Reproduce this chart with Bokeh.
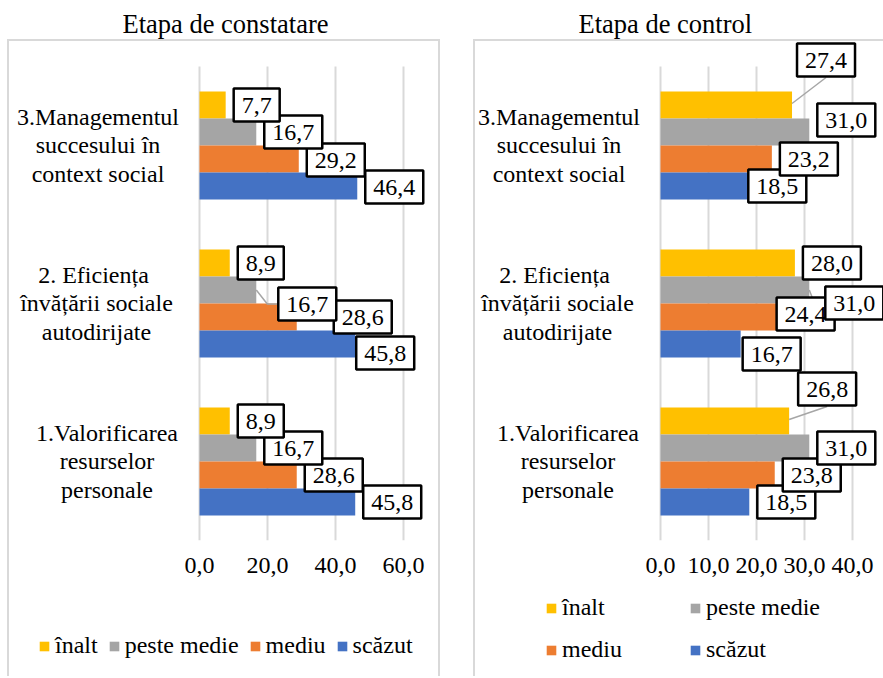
from bokeh.plotting import figure
from bokeh.models import FixedTicker, Range1d, Legend, LegendItem, Label
from bokeh.core.properties import value
from bokeh.layouts import row, column
from bokeh.embed import file_html
from bokeh.resources import INLINE

# ---------------- data ----------------
categories = [
    "1.Valorificarea\nresurselor\npersonale",
    "2.  Eficiența\nînvățării sociale\nautodirijate",
    "3.Managementul\nsuccesului în\ncontext social",
]
series_names = ["înalt", "peste medie", "mediu", "scăzut"]
series_colors = ["#FFC000", "#A5A5A5", "#ED7D31", "#4472C4"]

const_inalt = [8.9, 8.9, 7.7]
const_peste = [16.7, 16.7, 16.7]
const_mediu = [28.6, 28.6, 29.2]
const_scazut = [45.8, 45.8, 46.4]

ctrl_inalt = [26.8, 28.0, 27.4]
ctrl_peste = [31.0, 31.0, 31.0]
ctrl_mediu = [23.8, 24.4, 23.2]
ctrl_scazut = [18.5, 16.7, 18.5]

const_ticks = [0, 20, 40, 60]
const_tick_labels = ["0,0", "20,0", "40,0", "60,0"]
ctrl_ticks = [0, 10, 20, 30, 40]
ctrl_tick_labels = ["0,0", "10,0", "20,0", "30,0", "40,0"]

title_const = "Etapa de constatare"
title_ctrl = "Etapa de control"

# ---------------- styles / placement (pixels) ----------------
FONT = "Liberation Serif"
TXT = "#000000"
GRID = "#D9D9D9"
MAIN_H = 590
LEG_H = 86
TOP = 40          # frame top (px from figure top)
BOTTOM = 50       # space under frame for the x axis
BAR_PX = 27
CAT_PX = 158
PAD_V, PAD_H = 8, 9
GAP = 8
BOX_HALF_W, BOX_HALF_H = 29, 17.5
CAT_LABEL_DX = [-92.5, -103, -101.5]   # centre of category label blocks, px from x=0

# manual label nudges (dx right, dy down) per series, per category
const_moves = [
    [(0, 0), (0, 0), (0, 0)],
    [(0, 0), (14, 14), (0, 0)],
    [(0, 0), (29, 0), (0, 1)],
    [(0, 0), (-7, 9), (0, 1)],
]
ctrl_moves = [
    [(1, -32), (0, 0), (-3, -45)],
    [(0, 0), (8, 13), (0, -12)],
    [(0, 0), (-9, -3), (0, 0)],
    [(0, 0), (-6, 10), (-9, 0)],
]
# leader lines: (series index, category index, kind)
const_leaders = [(1, 1, "side")]
ctrl_leaders = [(0, 0, "bottom"), (1, 1, "side"), (0, 2, "bottom")]

G = "linear-gradient(#D9D9D9,#D9D9D9)"


def fmt(v):
    return f"{v:.1f}".replace(".", ",")


def main_styles(right_edge):
    t = TOP - 1
    imgs = [G, G] + ([G] if right_edge else [])
    sizes = ["100% 2px", f"2px calc(100% - {t}px)"] + \
            ([f"2px calc(100% - {t}px)"] if right_edge else [])
    pos = [f"0 {t}px", f"0 {t}px"] + ([f"100% {t}px"] if right_edge else [])
    return {"background-image": ", ".join(imgs),
            "background-size": ", ".join(sizes),
            "background-position": ", ".join(pos),
            "background-repeat": "no-repeat"}


def leg_styles(right_edge):
    imgs = [G] + ([G] if right_edge else [])
    sizes = ["2px 100%"] + (["2px 100%"] if right_edge else [])
    pos = ["0 0"] + (["100% 0"] if right_edge else [])
    return {"background-image": ", ".join(imgs),
            "background-size": ", ".join(sizes),
            "background-position": ", ".join(pos),
            "background-repeat": "no-repeat"}


def panel(title, title_offset, values, ticks, tick_labels, width, zero_px,
          px_per_unit, moves, leaders, right_edge):
    x0 = -zero_px / px_per_unit
    x1 = (width - zero_px) / px_per_unit
    frame_h = MAIN_H - TOP - BOTTOM
    y0 = -0.5
    y1 = y0 + frame_h / CAT_PX
    p = figure(width=width, height=MAIN_H, x_range=Range1d(x0, x1),
               y_range=Range1d(y0, y1), toolbar_location=None,
               output_backend="svg", y_axis_location=None,
               min_border_left=0, min_border_right=0,
               min_border_top=TOP, min_border_bottom=BOTTOM,
               outline_line_color=None, border_fill_color=None,
               background_fill_color=None, styles=main_styles(right_edge))
    sx = px_per_unit
    sy = CAT_PX
    bar_h = BAR_PX / CAT_PX

    p.title.text = title
    p.title.align = "left"
    p.title.offset = title_offset
    p.title.standoff = 4
    p.title.text_font = FONT
    p.title.text_font_size = "26.5px"
    p.title.text_font_style = "normal"
    p.title.text_color = TXT

    ax = p.xaxis[0]
    ax.ticker = FixedTicker(ticks=ticks)
    ax.major_label_overrides = {t: l for t, l in zip(ticks, tick_labels)}
    ax.axis_line_color = None
    ax.major_tick_line_color = None
    ax.minor_tick_line_color = None
    ax.major_tick_out = 0
    ax.major_label_standoff = 17
    ax.major_label_text_font = FONT
    ax.major_label_text_font_size = "24px"
    ax.major_label_text_color = TXT

    grid = p.xgrid[0]
    grid.ticker = FixedTicker(ticks=ticks)
    grid.grid_line_color = GRID
    grid.grid_line_width = 2
    p.ygrid.visible = False
    if "cross_bounds" in grid.properties():
        grid.cross_bounds = (-0.5, 2.5)
    else:
        grid.visible = False
        p.segment(x0=ticks, x1=ticks, y0=-0.5, y1=2.5, line_color=GRID,
                  line_width=2, level="underlay")

    p.text(x=[0] * len(categories), y=list(range(len(categories))),
           text=categories, x_offset=CAT_LABEL_DX, text_align="center",
           text_baseline="middle", text_font=value(FONT),
           text_font_size="24px", text_color=TXT, text_line_height=1.08)

    for si, vals in enumerate(values):
        off = (1.5 - si) * bar_h
        ys = [ci + off for ci in range(len(vals))]
        p.hbar(y=ys, left=0, right=vals, height=bar_h,
               fill_color=series_colors[si], line_color=None)

    lx, ly = [], []
    for si, ci, kind in leaders:
        v = values[si][ci]
        yb = ci + (1.5 - si) * bar_h
        dx, dy = moves[si][ci]
        left_px = GAP + dx
        if kind == "side":
            lx.append([v, v + (left_px - 11) / sx, v + left_px / sx])
            ly.append([yb, yb - dy / sy, yb - dy / sy])
        else:
            cx = left_px + BOX_HALF_W
            by = dy + BOX_HALF_H
            lx.append([v, v + cx / sx])
            ly.append([yb + 1.5 / sy, yb - by / sy])
    if lx:
        p.multi_line(lx, ly, line_color="#A6A6A6", line_width=1.5)

    for si in reversed(range(len(values))):
        for ci, v in enumerate(values[si]):
            dx, dy = moves[si][ci]
            lab = Label(x=v, y=ci + (1.5 - si) * bar_h, text=fmt(v),
                        x_offset=GAP + dx, y_offset=-dy,
                        text_align="left", text_baseline="middle",
                        text_font=FONT, text_font_size="24px",
                        text_color=TXT, padding=(PAD_V, PAD_H),
                        background_fill_color="white",
                        border_line_color="black", border_line_width=2.5)
            p.add_layout(lab)
    return p


def legend_fig(width, right_edge, values, legend_kw):
    lf = figure(width=width, height=LEG_H, toolbar_location=None,
                output_backend="svg", x_axis_location=None,
                y_axis_location=None, x_range=Range1d(0, 100),
                y_range=Range1d(10, 11), min_border_left=0,
                min_border_right=0, min_border_top=0, min_border_bottom=0,
                outline_line_color=None, border_fill_color=None,
                background_fill_color=None, styles=leg_styles(right_edge))
    lf.grid.visible = False
    items = []
    for n, c, vals in zip(series_names, series_colors, values):
        # zero-height proxy bars (invisible) that carry the legend swatches
        r = lf.hbar(y=list(range(len(vals))), left=0, right=vals, height=0,
                    fill_color=c, line_color=None)
        items.append(LegendItem(label=n, renderers=[r]))
    legend = Legend(items=items, glyph_width=12, glyph_height=12,
                    label_standoff=5, padding=0, margin=0,
                    border_line_color=None, background_fill_color=None,
                    label_text_font=FONT, label_text_font_size="24px",
                    label_text_color=TXT, **legend_kw)
    lf.add_layout(legend)
    return lf


const_vals = [const_inalt, const_peste, const_mediu, const_scazut]
ctrl_vals = [ctrl_inalt, ctrl_peste, ctrl_mediu, ctrl_scazut]

left = panel(title_const, 115, const_vals, const_ticks, const_tick_labels,
             433, 192, 3.4, const_moves, const_leaders, True)
right = panel(title_ctrl, 105, ctrl_vals, ctrl_ticks, ctrl_tick_labels,
              410, 187, 4.8, ctrl_moves, ctrl_leaders, False)
left_leg = legend_fig(433, True, const_vals,
                      dict(orientation="horizontal", location=(31, 17),
                           spacing=10))
right_leg = legend_fig(410, False, ctrl_vals,
                       dict(orientation="horizontal", ncols=2,
                            location=(72, 13), spacing=15, label_width=112))

page = row(column(left, left_leg, spacing=0),
           column(right, right_leg, spacing=0),
           spacing=33, margin=(0, 0, 0, 7))
open("out.html", "w").write(file_html(page, INLINE))
